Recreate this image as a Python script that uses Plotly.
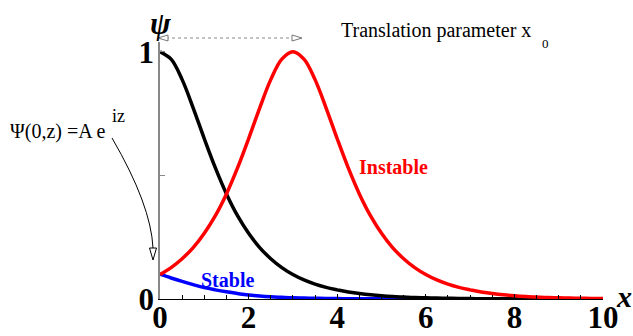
import plotly.graph_objects as go

# Sample positions along x
x_vals = [0, 0.25, 0.5, 0.75, 1, 1.25, 1.5, 1.75, 2, 2.25, 2.5, 2.75, 3, 3.25, 3.5, 3.75,
          4, 4.25, 4.5, 4.75, 5, 5.25, 5.5, 5.75, 6, 6.25, 6.5, 6.75, 7, 7.25, 7.5, 7.75,
          8, 8.25, 8.5, 8.75, 9, 9.25, 9.5, 9.75, 10]

# Soliton centred at x = 0
psi_center = [1.000, 0.970, 0.887, 0.772, 0.648, 0.530, 0.425, 0.337, 0.266, 0.208, 0.163,
              0.127, 0.099, 0.077, 0.060, 0.047, 0.037, 0.028, 0.022, 0.017, 0.013, 0.010,
              0.008, 0.006, 0.005, 0.004, 0.003, 0.002, 0.002, 0.001, 0.001, 0.001, 0.001,
              0.001, 0.000, 0.000, 0.000, 0.000, 0.000, 0.000, 0.000]

# Translated soliton (unstable branch)
psi_instable = [0.099, 0.127, 0.163, 0.208, 0.266, 0.337, 0.425, 0.530, 0.648, 0.772, 0.887,
                0.970, 1.000, 0.970, 0.887, 0.772, 0.648, 0.530, 0.425, 0.337, 0.266, 0.208,
                0.163, 0.127, 0.099, 0.077, 0.060, 0.047, 0.037, 0.028, 0.022, 0.017, 0.013,
                0.010, 0.008, 0.006, 0.005, 0.004, 0.003, 0.002, 0.002]

# Small-amplitude stable branch
psi_stable = [0.100, 0.085, 0.071, 0.058, 0.046, 0.037, 0.029, 0.022, 0.016, 0.012, 0.009,
              0.007, 0.005, 0.004, 0.003, 0.002, 0.002, 0.001, 0.001, 0.001, 0.001, 0.000,
              0.000, 0.000, 0.000, 0.000, 0.000, 0.000, 0.000, 0.000, 0.000, 0.000, 0.000,
              0.000, 0.000, 0.000, 0.000, 0.000, 0.000, 0.000, 0.000]

x_ticks = [0, 2, 4, 6, 8, 10]
y_ticks = [0, 0.5, 1]
y_ticktext = ["0", "", "1"]

W, H = 633, 336
L, R, T, B = 160, 30, 42, 37
PW, PH = W - L - R, H - T - B


def px(xp):
    return (xp - L) / PW


def py(yp):
    return (H - B - yp) / PH


SERIF = "Liberation Serif"

fig = go.Figure()
fig.add_trace(go.Scatter(x=x_vals, y=psi_stable, mode="lines",
                         line=dict(color="#0000ff", width=3.5, shape="spline")))
fig.add_trace(go.Scatter(x=x_vals, y=psi_center, mode="lines",
                         line=dict(color="#000000", width=3.5, shape="spline")))
fig.add_trace(go.Scatter(x=x_vals, y=psi_instable, mode="lines",
                         line=dict(color="#ff0000", width=3.5, shape="spline")))

shapes = []
# translation double arrow
shapes.append(dict(type="line", xref="paper", yref="paper",
                   x0=px(160), x1=px(300), y0=py(38), y1=py(38),
                   line=dict(color="#888888", width=1, dash="dot")))
shapes.append(dict(type="path", xref="paper", yref="paper",
                   path=f"M {px(158)} {py(38)} L {px(168)} {py(35)} L {px(168)} {py(41)} Z",
                   fillcolor="white", line=dict(color="#777777", width=1)))
shapes.append(dict(type="path", xref="paper", yref="paper",
                   path=f"M {px(302)} {py(38)} L {px(292)} {py(35)} L {px(292)} {py(41)} Z",
                   fillcolor="white", line=dict(color="#777777", width=1)))
# curved arrow from the boundary condition label
shapes.append(dict(type="path", xref="paper", yref="paper",
                   path=f"M {px(112)} {py(138)} Q {px(151)} {py(205)} {px(153)} {py(248)}",
                   line=dict(color="#000000", width=1)))
shapes.append(dict(type="path", xref="paper", yref="paper",
                   path=f"M {px(153)} {py(260)} L {px(149.5)} {py(248)} L {px(156.5)} {py(248)} Z",
                   fillcolor="white", line=dict(color="#000000", width=1)))

annotations = [
    dict(x=px(160), y=py(23), text="<b><i>ψ</i></b>",
         font=dict(family=SERIF, size=31, color="black")),
    dict(x=px(624), y=py(296), text="<b><i>x</i></b>",
         font=dict(family=SERIF, size=30, color="black")),
    dict(x=px(436), y=py(31), text="Translation parameter x",
         font=dict(family=SERIF, size=20, color="black")),
    dict(x=px(545), y=py(43), text="0",
         font=dict(family=SERIF, size=13, color="black")),
    dict(x=px(58), y=py(131), text="Ψ(0,z) =A e",
         font=dict(family=SERIF, size=20, color="black")),
    dict(x=px(118), y=py(116), text="iz",
         font=dict(family=SERIF, size=18, color="black")),
    dict(x=px(393), y=py(167), text="<b>Instable</b>",
         font=dict(family=SERIF, size=20, color="#ff0000")),
    dict(x=px(227), y=py(280), text="<b>Stable</b>",
         font=dict(family=SERIF, size=20, color="#0000ff")),
]
for a in annotations:
    a.update(xref="paper", yref="paper", showarrow=False,
             xanchor="center", yanchor="middle")

fig.update_layout(
    width=W, height=H,
    margin=dict(l=L, r=R, t=T, b=B, autoexpand=False),
    paper_bgcolor="white", plot_bgcolor="white",
    showlegend=False,
    shapes=shapes, annotations=annotations,
    xaxis=dict(range=[0, 10], tickvals=x_ticks, ticks="inside", ticklen=5,
               tickcolor="black", showline=True, linecolor="black", linewidth=1,
               showgrid=False, zeroline=False, automargin=False,
               tickfont=dict(family=SERIF, size=31, color="black", weight="bold"),
               minor=dict(dtick=0.5, ticks="inside", ticklen=4, tickcolor="black"),
               ticklabelstandoff=-9),
    yaxis=dict(range=[0, PH / 247.3], tickvals=y_ticks, ticktext=y_ticktext,
               ticks="inside", ticklen=5, tickcolor="#888888",
               showline=True, linecolor="#888888", linewidth=1.5,
               showgrid=False, zeroline=False, automargin=False,
               tickfont=dict(family=SERIF, size=31, color="black", weight="bold"),
               ticklabelstandoff=-2),
)

fig.write_html("out.html")
